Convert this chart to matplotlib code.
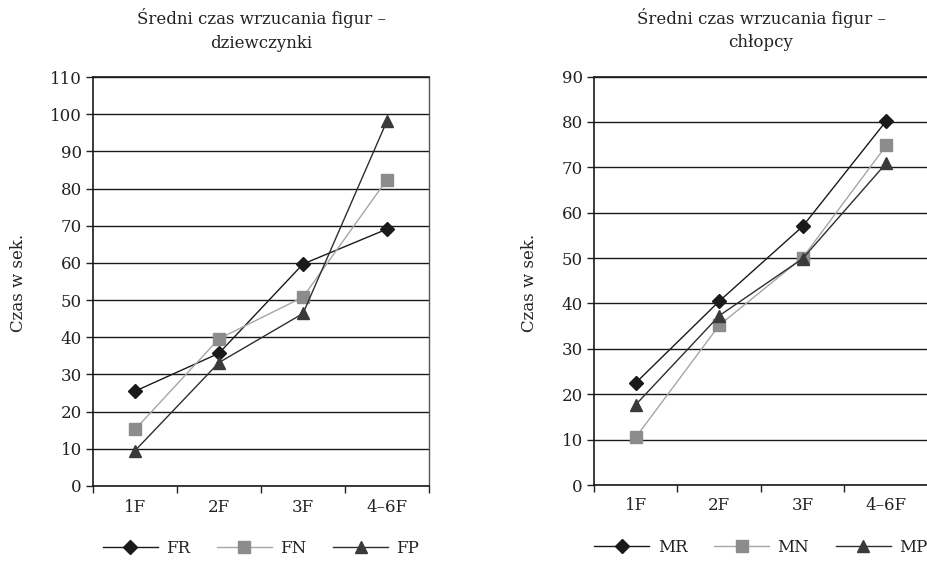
import matplotlib
matplotlib.use("Agg")
import matplotlib.pyplot as plt
from matplotlib.ticker import FixedLocator, NullFormatter

plt.rcParams['font.family'] = ['DejaVu Serif']

categories = ["1F", "2F", "3F", "4–6F"]

girls_labels = ["FR", "FN", "FP"]
FR = [25.5, 35.7, 59.7, 69.1]
FN = [15.2, 39.6, 50.8, 82.4]
FP = [9.5, 33.2, 46.4, 98.2]

boys_labels = ["MR", "MN", "MP"]
MR = [22.5, 40.5, 57.0, 80.2]
MN = [10.5, 35.2, 50.1, 74.8]
MP = [17.7, 37.3, 49.9, 70.9]

titles = ["Średni czas wrzucania figur –\ndziewczynki",
          "Średni czas wrzucania figur –\nchłopcy"]
ylabel = "Czas w sek."

styles = [
    dict(color="#1a1a1a", marker="D", ms=7.5, mfc="#1a1a1a", mec="#1a1a1a", lw=1.0),
    dict(color="#a6a6a6", marker="s", ms=8, mfc="#8c8c8c", mec="#8c8c8c", lw=1.0),
    dict(color="#2e2e2e", marker="^", ms=9, mfc="#3a3a3a", mec="#3a3a3a", lw=1.0),
]

fig = plt.figure(figsize=(9.28, 5.65), dpi=100)
ax1 = fig.add_axes([93 / 928, 79 / 565, 336 / 928, 409 / 565])
ax2 = fig.add_axes([594 / 928, 80 / 565, 334 / 928, 408.5 / 565])

panels = [
    (ax1, [FR, FN, FP], girls_labels, 110, titles[0], 27 / 928),
    (ax2, [MR, MN, MP], boys_labels, 90, titles[1], 538 / 928),
]

x = [1, 2, 3, 4]
fs = 12
for ax, series, labels, ymax, title, ylab_x in panels:
    for vals, lab, st in zip(series, labels, styles):
        ax.plot(x, vals, label=lab, zorder=3, clip_on=False, **st)
    ax.set_xlim(0.5, 4.5)
    ax.set_ylim(0, ymax)
    ax.set_yticks(range(0, ymax + 1, 10))
    ax.yaxis.grid(True, color="#1a1a1a", lw=1.0)
    ax.set_axisbelow(True)
    ax.xaxis.set_major_locator(FixedLocator([0.5, 1.5, 2.5, 3.5, 4.5]))
    ax.xaxis.set_major_formatter(NullFormatter())
    ax.xaxis.set_minor_locator(FixedLocator(x))
    ax.set_xticklabels(categories, minor=True)
    ax.tick_params(axis="x", which="minor", length=0, pad=9, labelsize=fs, colors="#222222")
    ax.tick_params(axis="x", which="major", length=5, width=1.0, direction="out", color="#222222")
    ax.tick_params(axis="y", length=5, width=1.0, direction="out", labelsize=fs,
                   colors="#222222", pad=3)
    for side in ["left", "bottom", "top"]:
        ax.spines[side].set_color("#1a1a1a")
        ax.spines[side].set_linewidth(1.2)
    ax.spines["right"].set_color("#555555")
    ax.spines["right"].set_linewidth(1.0)
    ax.set_title(title, fontsize=fs, color="#222222", pad=21, linespacing=1.5)
    ax.set_ylabel(ylabel, fontsize=fs, color="#222222")
    ax.yaxis.set_label_coords(ylab_x, 0.5, transform=fig.transFigure)
    ax.legend(loc="upper center", bbox_to_anchor=(0.5, -0.095), ncol=3, frameon=False,
              fontsize=fs, handlelength=3.3, columnspacing=1.6, handletextpad=0.5,
              labelcolor="#222222")

fig.savefig("out.png", dpi=100, facecolor="white")
